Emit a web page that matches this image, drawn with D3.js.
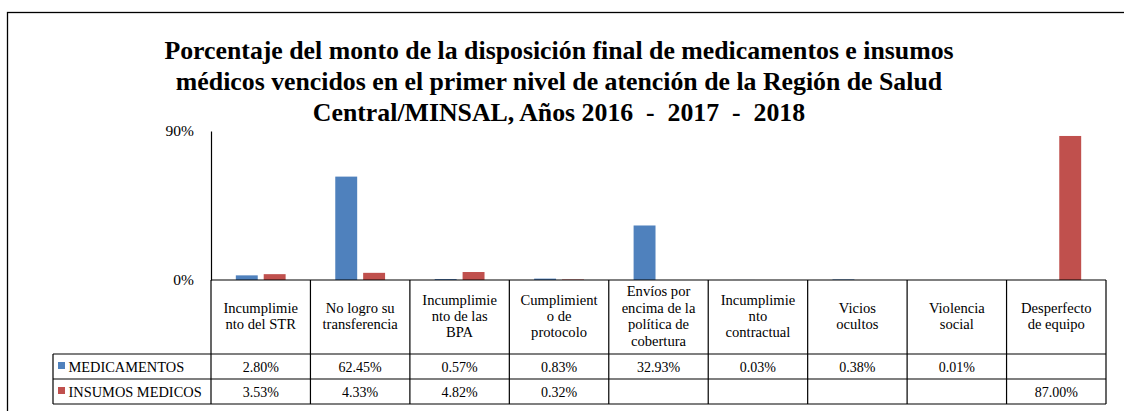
<!DOCTYPE html>
<html>
<head>
<meta charset="utf-8">
<script src="https://cdn.jsdelivr.net/npm/d3@7"></script>
<style>
  body { margin: 0; background: #fff; }
</style>
</head>
<body>
<div id="chart"></div>
<script>
  // categories, each split into the lines shown in the table header
  const categories = [
    ['Incumplimie', 'nto del STR'],
    ['No logro su', 'transferencia'],
    ['Incumplimie', 'nto de las', 'BPA'],
    ['Cumplimient', 'o de', 'protocolo'],
    ['Envíos por', 'encima de la', 'política de', 'cobertura'],
    ['Incumplimie', 'nto', 'contractual'],
    ['Vicios', 'ocultos'],
    ['Violencia', 'social'],
    ['Desperfecto', 'de equipo']
  ];
  const seriesNames = ['MEDICAMENTOS', 'INSUMOS MEDICOS'];
  const medicamentos = [2.80, 62.45, 0.57, 0.83, 32.93, 0.03, 0.38, 0.01, null];
  const insumos = [3.53, 4.33, 4.82, 0.32, null, null, null, null, 87.00];
  const yTicks = [0, 90];
  const titleLines = [
    'Porcentaje del monto de la disposición final de medicamentos e insumos',
    'médicos vencidos en el primer nivel de atención de la Región de Salud',
    'Central/MINSAL, Años 2016  -  2017  -  2018'
  ];

  const width = 1124, height = 411;
  const colors = ['#4F81BD', '#C0504D'];
  const serif = '"Liberation Serif", "Times New Roman", serif';
  const plotLeft = 211, plotRight = 1106, plotTop = 131, base = 280;
  const rowLines = [280, 354, 379, 404];

  let svg = d3.select('#chart').append('svg')
    .attr('width', width).attr('height', height)
    .attr('font-family', serif);

  // outer frame
  svg.append('rect')
    .attr('x', 7.5).attr('y', 12.5)
    .attr('width', 1130).attr('height', 420)
    .attr('fill', 'none').attr('stroke', '#000').attr('stroke-width', 1.3);

  // title
  svg.append('g').selectAll('text')
    .data(titleLines).enter()
    .append('text')
      .attr('x', 559)
      .attr('y', function(d, i) { return 59 + i * 31; })
      .attr('text-anchor', 'middle')
      .style('font-family', serif)
      .style('font-size', '25.8px')
      .style('font-weight', 'bold')
      .style('white-space', 'pre')
      .text(function(d) { return d; });

  let x = d3.scaleBand()
    .domain(d3.range(categories.length))
    .range([plotLeft, plotRight]);

  let xInner = d3.scaleBand()
    .domain([0, 1])
    .range([0, x.bandwidth()])
    .paddingInner(0.214)
    .paddingOuter(0.89);

  let y = d3.scaleLinear().domain([0, 90]).range([base, plotTop]);

  // y axis
  let yAxis = svg.append('g')
    .attr('transform', 'translate(' + plotLeft + ',0)')
    .call(d3.axisLeft(y).tickValues(yTicks).tickSize(0).tickPadding(17)
      .tickFormat(function(d) { return d + '%'; }));
  yAxis.attr('font-family', serif);
  yAxis.select('.domain').attr('stroke', '#000').attr('stroke-width', 1.2);
  yAxis.selectAll('text')
    .style('font-family', serif)
    .style('font-size', '15.5px').attr('fill', '#000');

  // bars
  const series = [medicamentos, insumos];
  series.forEach(function(values, s) {
    let pts = values.map(function(v, i) { return { i: i, v: v }; })
      .filter(function(d) { return d.v !== null; });
    svg.append('g').selectAll('rect')
      .data(pts).enter()
      .append('rect')
        .attr('x', function(d) { return x(d.i) + xInner(s); })
        .attr('y', function(d) { return y(d.v); })
        .attr('width', xInner.bandwidth())
        .attr('height', function(d) { return base - y(d.v); })
        .attr('fill', colors[s]);
  });

  // data table
  let table = svg.append('g')
    .attr('fill', 'none').attr('stroke', '#000').attr('stroke-width', 1.2);

  table.append('line')
    .attr('x1', plotLeft).attr('x2', plotRight).attr('y1', rowLines[0]).attr('y2', rowLines[0]);
  rowLines.slice(1).forEach(function(ly) {
    table.append('line').attr('x1', 53).attr('x2', plotRight).attr('y1', ly).attr('y2', ly);
  });
  table.append('line').attr('x1', 53).attr('x2', 53).attr('y1', rowLines[1]).attr('y2', rowLines[3]);
  d3.range(categories.length + 1).forEach(function(i) {
    let lx = i < categories.length ? x(i) : plotRight;
    table.append('line').attr('x1', lx).attr('x2', lx).attr('y1', rowLines[0]).attr('y2', rowLines[3]);
  });

  // header labels, centred in the header row
  const lineH = 16.4;
  categories.forEach(function(lines, i) {
    let y0 = 321 - (lines.length - 1) * lineH / 2;
    svg.append('g').selectAll('text')
      .data(lines).enter()
      .append('text')
        .attr('x', x(i) + x.bandwidth() / 2)
        .attr('y', function(d, k) { return y0 + k * lineH; })
        .attr('text-anchor', 'middle')
        .style('font-family', serif)
        .style('font-size', '14.6px')
        .text(function(d) { return d; });
  });

  // series rows
  series.forEach(function(values, s) {
    let cy = (rowLines[s + 1] + rowLines[s + 2]) / 2;
    svg.append('rect')
      .attr('x', 58).attr('y', cy - 4.5)
      .attr('width', 7).attr('height', 7)
      .attr('fill', colors[s]);
    svg.append('text')
      .attr('x', 68.5).attr('y', cy + 5)
      .style('font-family', serif)
      .style('font-size', '14.4px')
      .text(seriesNames[s]);
    svg.append('g').selectAll('text')
      .data(values).enter()
      .append('text')
        .attr('x', function(d, i) { return x(i) + x.bandwidth() / 2; })
        .attr('y', cy + 5)
        .attr('text-anchor', 'middle')
        .style('font-family', serif)
        .style('font-size', '14px')
        .text(function(d) { return d === null ? '' : d.toFixed(2) + '%'; });
  });
</script>
</body>
</html>
